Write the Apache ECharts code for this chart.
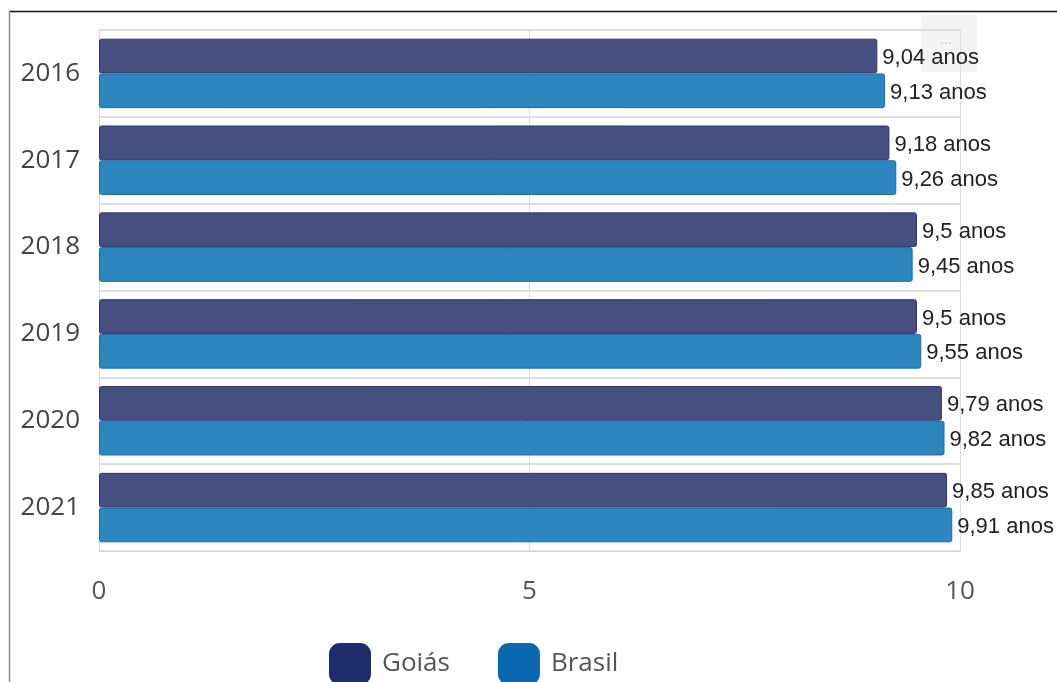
<!DOCTYPE html>
<html><head><meta charset="utf-8">
<script src="https://cdn.jsdelivr.net/npm/echarts@6/dist/echarts.min.js"></script>
<style>html,body{margin:0;padding:0;background:#fff}#c{width:1057px;height:682px}</style>
</head><body><div id="c"></div>
<script>
const categories = ['2016','2017','2018','2019','2020','2021'];
const goias = [9.04, 9.18, 9.5, 9.5, 9.79, 9.85];
const brasil = [9.13, 9.26, 9.45, 9.55, 9.82, 9.91];
const xTicks = [0, 5, 10];

const chart = echarts.init(document.getElementById('c'));
const fmt = p => String(p.value).replace('.', ',') + ' anos';
chart.setOption({
  animation: false,
  graphic: [
    {type:'rect', z:-10, shape:{x:921,y:14,width:56,height:58}, style:{fill:'#f4f4f4'}},
    {type:'text', z:-9, left:940, top:33, style:{text:'...', fill:'#c0c0c0', font:'14px sans-serif'}},
    {type:'line', shape:{x1:9,y1:11.5,x2:1057,y2:11.5}, style:{stroke:'#111', lineWidth:1.5}},
    {type:'line', shape:{x1:9.5,y1:11,x2:9.5,y2:682}, style:{stroke:'#8a8a8a', lineWidth:1.5}}
  ],
  legend: {
    top: 643, left: 329, itemWidth: 40, itemHeight: 40, itemGap: 48, padding: 0,
    textStyle: {fontFamily: 'Open Sans', fontSize: 26, color: '#555', padding: [0, 0, 0, 7]},
    data: [
      {name:'Goiás', itemStyle:{color:'#1f2d6b', borderColor:'#1f2d6b', borderRadius:5}},
      {name:'Brasil', itemStyle:{color:'#0b67b0', borderColor:'#0b67b0', borderRadius:5}}
    ]
  },
  grid: {left: 99, right: 97, top: 30, bottom: 131},
  xAxis: {
    type: 'value', min: 0, max: 10, interval: 5,
    axisLine: {show: true, lineStyle: {color: '#d8d8d8'}},
    axisTick: {show: false},
    splitLine: {show: true, lineStyle: {color: '#dedede'}},
    axisLabel: {fontFamily: 'Open Sans', fontSize: 26, color: '#555', margin: 28,
      formatter: v => xTicks.includes(v) ? String(v) : ''}
  },
  yAxis: {
    type: 'category', data: categories, inverse: true,
    axisLine: {show: true, lineStyle: {color: '#d8d8d8'}},
    axisTick: {show: false},
    splitLine: {show: true, lineStyle: {color: '#dedede', width: 2}},
    axisLabel: {fontFamily: 'Open Sans', fontSize: 26, color: '#444', margin: 19}
  },
  series: [
    {name:'Goiás', type:'bar', data: goias, barGap: '0%', barCategoryGap: '20%',
     itemStyle: {color:'#464f80', borderColor:'#2c376f', borderWidth:1, borderRadius:2},
     label: {show:true, position:'right', distance:5, offset:[0, 2], formatter: fmt,
       fontFamily:'Liberation Sans', fontSize:22, color:'#222'}},
    {name:'Brasil', type:'bar', data: brasil,
     itemStyle: {color:'#2e86bf', borderColor:'#1c6aa5', borderWidth:1, borderRadius:2},
     label: {show:true, position:'right', distance:5, offset:[0, 2], formatter: fmt,
       fontFamily:'Liberation Sans', fontSize:22, color:'#222'}}
  ]
});
</script></body></html>
